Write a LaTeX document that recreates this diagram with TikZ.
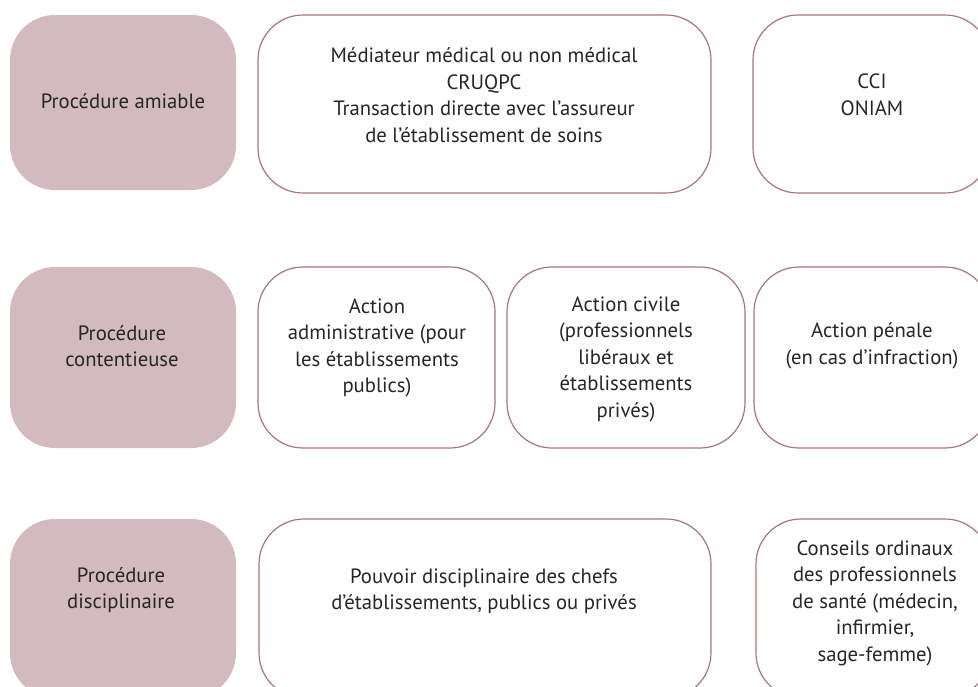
\documentclass[tikz,border=0pt]{standalone}
\usepackage{fontspec}
\setmainfont{PT Sans}
\definecolor{malva}{HTML}{D3BABE}
\definecolor{bordo}{HTML}{A7757C}
\definecolor{grigio}{HTML}{262626}

\begin{document}
\begin{tikzpicture}[x=1pt, y=-1pt]
    \def\r{45pt}
    \clip (0,0) rectangle (978,686);
    \tikzset{blocco/.style = {fill=malva, rounded corners=\r},
             cornice/.style = {draw=bordo, line width=1.2pt, rounded corners=\r},
             testo/.style = {align=center, text=grigio, inner sep=0pt, font=\fontsize{20.7}{26.5}\selectfont}}
    % amiable
    \fill [blocco] (10,15) rectangle (236,190);
    \draw [cornice] (258,15) rectangle (711,193);
    \draw [cornice] (753,15) rectangle (990,193);
    % contentieuse
    \fill [blocco] (10,267) rectangle (236,448);
    \draw [cornice] (258,267) rectangle (495,448);
    \draw [cornice] (507,267) rectangle (745,448);
    \draw [cornice] (754,267) rectangle (990,448);
    % disciplinaire
    \fill [blocco] (10,519) rectangle (236,698);
    \draw [cornice] (259,519) rectangle (711,698);
    \draw [cornice] (756,519) rectangle (990,698);

    \node [testo] (namiable) at (123,101) {Procédure amiable};
    \node [testo] (nmediatori) at (484,95) {Médiateur médical ou non médical\\CRUQPC\\Transaction directe avec l’assureur\\de l’établissement de soins};
    \node [testo] (ncci) at (872,95) {CCI\\ONIAM};

    \node [testo] (ncontenz) at (122,346) {Procédure\\contentieuse};
    \node [testo] (nammin) at (377,348) {Action\\administrative (pour\\les établissements\\publics)};
    \node [testo] (ncivile) at (626,359) {Action civile\\(professionnels\\libéraux et\\établissements\\privés)};
    \node [testo] (npenale) at (872,346) {Action pénale\\(en cas d’infraction)};

    \node [testo] (ndiscipl) at (121,590) {Procédure\\disciplinaire};
    \node [testo] (npotere) at (484,591) {Pouvoir disciplinaire des chefs\\d’établissements, publics ou privés};
    \node [testo] (nordini) at (875,603) {Conseils ordinaux\\des professionnels\\de santé (médecin,\\infirmier,\\sage-femme)};
\end{tikzpicture}
\end{document}
